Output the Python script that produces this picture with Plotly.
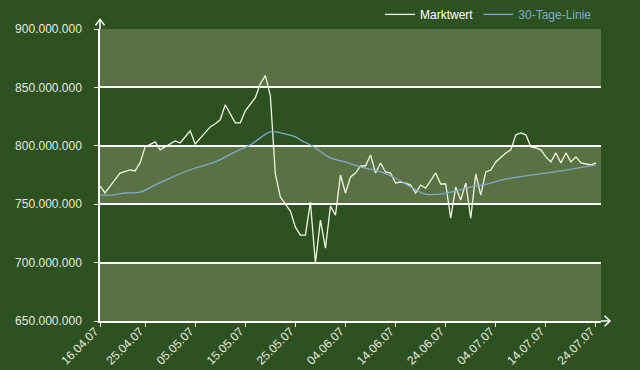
import plotly.graph_objects as go

# Marktwert (daily market value, in millions)
mw_dates = ["2007-04-16","2007-04-17","2007-04-20","2007-04-22","2007-04-23","2007-04-24","2007-04-25",
            "2007-04-27","2007-04-28","2007-04-29","2007-05-01","2007-05-02","2007-05-04","2007-05-05",
            "2007-05-07","2007-05-08","2007-05-09","2007-05-10","2007-05-11","2007-05-13","2007-05-14",
            "2007-05-15","2007-05-17","2007-05-18","2007-05-19","2007-05-20","2007-05-21","2007-05-22",
            "2007-05-24","2007-05-25","2007-05-26","2007-05-27","2007-05-28","2007-05-29","2007-05-30",
            "2007-05-31","2007-06-01","2007-06-02","2007-06-03","2007-06-04","2007-06-05","2007-06-06",
            "2007-06-07","2007-06-08","2007-06-09","2007-06-10","2007-06-11","2007-06-12","2007-06-13",
            "2007-06-14","2007-06-15","2007-06-16","2007-06-17","2007-06-18","2007-06-19","2007-06-20",
            "2007-06-22","2007-06-23","2007-06-24","2007-06-25","2007-06-26","2007-06-27","2007-06-28",
            "2007-06-29","2007-06-30","2007-07-01","2007-07-02","2007-07-03","2007-07-04","2007-07-06",
            "2007-07-07","2007-07-08","2007-07-09","2007-07-10","2007-07-11","2007-07-12","2007-07-13",
            "2007-07-14","2007-07-15","2007-07-16","2007-07-17","2007-07-18","2007-07-19","2007-07-20",
            "2007-07-21","2007-07-22","2007-07-23","2007-07-24"]
mw_values = [765.6,759.6,776.7,779.3,778.5,785.3,799.1,
             803.4,796.5,799.1,804.2,802.5,812.8,801.6,
             811.1,816.2,818.8,822.3,835.1,819.7,819.7,
             830.0,841.2,853.2,860.1,842.9,775.9,756.1,
             744.1,730.3,723.5,723.5,751.8,699.4,736.4,
             712.3,748.4,740.7,775.0,759.6,773.3,776.7,
             782.7,782.7,792.2,776.7,785.3,777.6,776.7,
             768.1,769.0,768.1,766.4,759.6,766.4,763.8,
             776.7,767.3,767.3,738.1,764.7,753.5,768.1,
             738.1,775.9,757.8,777.6,779.3,786.2,793.9,
             796.5,809.4,811.1,809.4,799.1,798.2,796.5,
             790.5,786.2,793.9,785.3,793.9,786.2,790.5,
             785.3,784.5,783.6,785.3]

# 30-Tage-Linie (moving average, in millions)
ma_dates = ["2007-04-16","2007-04-18","2007-04-21","2007-04-24","2007-04-27","2007-04-30","2007-05-05",
            "2007-05-09","2007-05-13","2007-05-16","2007-05-20","2007-05-22","2007-05-25","2007-05-26",
            "2007-05-29","2007-06-01","2007-06-04","2007-06-07","2007-06-11","2007-06-14","2007-06-17",
            "2007-06-20","2007-06-23","2007-06-26","2007-06-29","2007-07-03","2007-07-05","2007-07-10",
            "2007-07-17","2007-07-24"]
ma_values = [757.8,757.8,759.6,760.4,766.4,772.4,781.0,
             786.2,794.8,800.8,812.0,811.1,807.7,805.1,
             798.2,789.6,786.2,781.9,777.6,772.4,764.7,
             758.7,758.7,761.3,764.7,768.1,770.7,774.2,
             778.5,783.6]

x_ticks = ["2007-04-16","2007-04-25","2007-05-05","2007-05-15","2007-05-25","2007-06-04",
           "2007-06-14","2007-06-24","2007-07-04","2007-07-14","2007-07-24"]
y_ticks = [650, 700, 750, 800, 850, 900]
bands = [(650, 700), (750, 800), (850, 900)]

BG = "#2e5122"
BAND = "#5a7243"
TXT = "#e6eadf"
BLUE = "#7eaacb"

fig = go.Figure()
fig.add_trace(go.Scatter(x=mw_dates, y=[v * 1e6 for v in mw_values], mode="lines",
                         name="Marktwert", line=dict(color="#f2f6e4", width=1.3)))
fig.add_trace(go.Scatter(x=ma_dates, y=[v * 1e6 for v in ma_values], mode="lines",
                         name="<span style='color:%s'>30-Tage-Linie</span>" % BLUE,
                         line=dict(color=BLUE, width=1.3, shape="spline")))

shapes = []
for lo, hi in bands:
    shapes.append(dict(type="rect", xref="paper", yref="y", x0=0, x1=1, y0=lo * 1e6, y1=hi * 1e6,
                       fillcolor=BAND, line=dict(width=0), layer="below"))
# axis extensions with arrow heads
shapes.append(dict(type="line", xref="paper", yref="paper", x0=0, x1=0, y0=1, y1=1.033,
                   line=dict(color="white", width=1.5)))
shapes.append(dict(type="path", xref="paper", yref="paper",
                   path="M -0.009,1.013 L 0,1.033 L 0.009,1.013", line=dict(color="white", width=1.5)))
shapes.append(dict(type="line", xref="paper", yref="paper", x0=1, x1=1.018, y0=0, y1=0,
                   line=dict(color="white", width=1.5)))
shapes.append(dict(type="path", xref="paper", yref="paper",
                   path="M 1.007,0.018 L 1.018,0 L 1.007,-0.018", line=dict(color="white", width=1.5)))

fig.update_layout(
    width=640, height=370,
    margin=dict(l=100, r=39, t=29, b=49, autoexpand=False),
    paper_bgcolor=BG, plot_bgcolor=BG,
    separators=",.",
    font=dict(family="Arial, Liberation Sans, sans-serif", size=12, color=TXT),
    shapes=shapes,
    showlegend=True,
    legend=dict(orientation="h", x=0.992, xanchor="right", y=1.05, yanchor="middle",
                bgcolor="rgba(0,0,0,0)", font=dict(size=12, color="#ffffff")),
    xaxis=dict(type="date", range=["2007-04-16", "2007-07-25"], tickvals=x_ticks,
               tickformat="%d.%m.%y", tickangle=-45, showgrid=False, zeroline=False,
               showline=True, linecolor="white", linewidth=1.5, automargin=False,
               ticks="outside", ticklen=4, tickcolor="white", tickwidth=1.2,
               ticklabelstandoff=-7, ticklabelshift=-5),
    yaxis=dict(range=[650e6, 900e6], tickvals=[v * 1e6 for v in y_ticks], tickformat=",d",
               showgrid=True, gridcolor="white", gridwidth=1.5, zeroline=False,
               showline=True, linecolor="white", linewidth=1.5, automargin=False,
               ticks="outside", ticklen=4, tickcolor="white", tickwidth=1.2,
               ticklabelstandoff=10),
)

fig.write_html("out.html", config={"displayModeBar": False},
               post_script="document.body.style.margin='0';document.body.style.background='%s';" % BG)
